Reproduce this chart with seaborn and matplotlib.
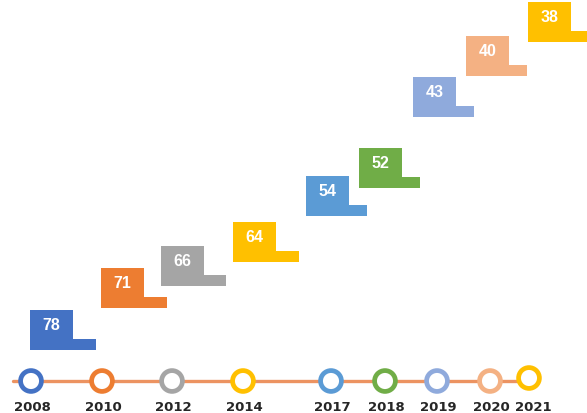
import matplotlib
matplotlib.use("Agg")
import matplotlib.pyplot as plt
import seaborn as sns
import pandas as pd

# Milestones along the timeline and the value carried by each flag
years = ["2008", "2010", "2012", "2014", "2017", "2018", "2019", "2020", "2021"]
values = [78, 71, 66, 64, 54, 52, 43, 40, 38]
colors = ["#4472C4", "#ED7D31", "#A5A5A5", "#FFC000", "#5B9BD5",
          "#70AD47", "#8FAADC", "#F4B183", "#FFC000"]

# Layout of the drawing (canvas units, y grows downward)
node_x = [31, 102, 172, 243, 331, 385, 437, 490, 529]
node_y = [382, 382, 382, 382, 382, 382, 382, 382, 379]
label_x = [32, 103, 173, 244, 332, 386, 438, 491, 533]
line_start = 13
flag_left = [30, 101, 161, 233, 306, 359, 413, 466, 528]
flag_bottom = [351, 309, 287, 263, 217, 189, 118, 77, 43]
flag_width = [66, 66, 65, 66, 61, 61, 61, 61, 61]
head_width = 43
head_height = 29
tail_height = 11

sns.set_theme(style="white")
plt.rcParams["font.family"] = ["Liberation Sans", "DejaVu Sans"]

fig = plt.figure(figsize=(5.87, 4.14), dpi=100)
ax = fig.add_axes([0, 0, 1, 1])
ax.set_xlim(0, 587)
ax.set_ylim(414, 0)
ax.axis("off")

nodes = pd.DataFrame({"year": years, "x": node_x, "y": node_y})

# Timeline axis line
sns.lineplot(x=[line_start, node_x[-1]], y=[node_y[0], node_y[0]],
             color="#EC9361", linewidth=2.4, ax=ax, zorder=1)

# Ring markers for every milestone
sns.scatterplot(data=nodes, x="x", y="y", hue="year", palette=colors,
                s=225, marker="o", linewidth=3.4,
                legend=False, ax=ax, zorder=3)
for coll in ax.collections:
    coll.set_facecolor("white")
    coll.set_edgecolor(colors)

# Year labels under the rings
for xx, yr in zip(label_x, years):
    ax.text(xx, 408, yr, ha="center", va="center", fontsize=9.5,
            fontweight="bold", color="#262626", family="DejaVu Sans")

# Step-shaped flags holding the values
for left, bottom, width, val, col in zip(flag_left, flag_bottom, flag_width,
                                          values, colors):
    top = bottom - head_height - tail_height
    step = bottom - tail_height
    xs = [left, left + width, left + width, left + head_width,
          left + head_width, left]
    ys = [bottom, bottom, step, step, top, top]
    ax.fill(xs, ys, color=col, linewidth=0, zorder=2)
    ax.text(left + head_width / 2, top + head_height / 2, str(val),
            ha="center", va="center", fontsize=11.5, fontweight="bold",
            color="white", zorder=4)

fig.savefig("out.png", dpi=100)
